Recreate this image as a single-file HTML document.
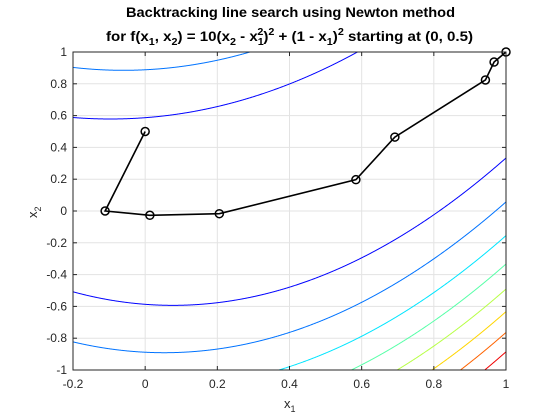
<!DOCTYPE html>
<html><head><meta charset="utf-8"><style>
html,body{margin:0;padding:0;background:#fff;overflow:hidden;width:560px;height:420px}
svg{display:block;overflow:hidden;position:absolute;left:0;top:0}
svg text{font-family:"Liberation Sans",Arial,sans-serif}
</style></head><body>
<svg id="chart" width="560" height="420" viewBox="0 0 560 420" xmlns="http://www.w3.org/2000/svg">
<rect width="560" height="420" fill="#fff"/>
<defs><clipPath id="clip"><rect x="73" y="52" width="433" height="318"/></clipPath></defs>
<g id="grid"></g>
<g id="contours" clip-path="url(#clip)"></g>
<g id="path"></g>
<rect x="73" y="52" width="433" height="318" fill="none" stroke="#262626" stroke-width="1"/>
<g id="ticks"></g>
<text x="126" y="17" textLength="329" lengthAdjust="spacingAndGlyphs" font-size="14" font-weight="bold" fill="#000">Backtracking line search using Newton method</text>
<text x="106" y="41" textLength="367" lengthAdjust="spacingAndGlyphs" font-size="14" font-weight="bold" fill="#000">for f(x<tspan font-size="10" dy="4">1</tspan><tspan dy="-4">, x</tspan><tspan font-size="10" dy="4">2</tspan><tspan dy="-4">) = 10(x</tspan><tspan font-size="10" dy="4">2</tspan><tspan dy="-4"> - x</tspan><tspan font-size="10" dy="4">1</tspan><tspan font-size="10" dx="-6" dy="-10">2</tspan><tspan dy="6">)</tspan><tspan font-size="10" dy="-6">2</tspan><tspan dy="6"> + (1 - x</tspan><tspan font-size="10" dy="4">1</tspan><tspan dy="-4">)</tspan><tspan font-size="10" dy="-6">2</tspan><tspan dy="6"> starting at (0, 0.5)</tspan></text>
<text x="284" y="408" font-size="13" fill="#262626">x<tspan font-size="9" dy="4">1</tspan></text>
<text transform="translate(37,218) rotate(-90)" font-size="13" fill="#262626">x<tspan font-size="9" dy="4">2</tspan></text>
</svg>
<script>
const xTicks=[-0.2,0,0.2,0.4,0.6,0.8,1];
const xTickLabels=["-0.2","0","0.2","0.4","0.6","0.8","1"];
const yTicks=[-1,-0.8,-0.6,-0.4,-0.2,0,0.2,0.4,0.6,0.8,1];
const yTickLabels=["-1","-0.8","-0.6","-0.4","-0.2","0","0.2","0.4","0.6","0.8","1"];
const levels=[4.444,8.889,13.333,17.778,22.222,26.667,31.111,35.556,40];
const pathX1=[0,-0.111,0.013,0.2055,0.584,0.692,0.943,0.967,1];
const pathX2=[0.5,0,-0.027,-0.017,0.197,0.465,0.824,0.937,1];
const L=73,T=52,W=433,H=318,NS="http://www.w3.org/2000/svg";
const sx=v=>L+(v+0.2)/1.2*W, sy=v=>T+(1-v)/2*H;
function mk(tag,attrs,parent){const e=document.createElementNS(NS,tag);for(const k in attrs)e.setAttribute(k,attrs[k]);parent.appendChild(e);return e;}
const grid=document.getElementById('grid'),ticks=document.getElementById('ticks');
xTicks.forEach((v,i)=>{const x=sx(v);
 const g=mk('line',{x1:x,x2:x,y1:T,y2:T+H,stroke:'#e3e3e3','stroke-width':1},grid);
 
 
 mk('line',{x1:x,x2:x,y1:T+H,y2:T+H-4,stroke:'#262626'},ticks);mk('line',{x1:x,x2:x,y1:T,y2:T+4,stroke:'#262626'},ticks);
 const t=mk('text',{x:x,y:T+H+18,'text-anchor':'middle','font-size':12,fill:'#262626'},ticks);t.textContent=xTickLabels[i];
 
 });
yTicks.forEach((v,i)=>{const y=sy(v);
 const g=mk('line',{x1:L,x2:L+W,y1:y,y2:y,stroke:'#e3e3e3','stroke-width':1},grid);
 
 
 mk('line',{x1:L,x2:L+4,y1:y,y2:y,stroke:'#262626'},ticks);mk('line',{x1:L+W,x2:L+W-4,y1:y,y2:y,stroke:'#262626'},ticks);
 const t=mk('text',{x:L-6,y:y+4,'text-anchor':'end','font-size':12,fill:'#262626'},ticks);t.textContent=yTickLabels[i];
 
 });
function jet(c){c=Math.round(c*63)/63;const r=Math.min(Math.max(Math.min(4*c-1.5,-4*c+4.5),0),1),g=Math.min(Math.max(Math.min(4*c-0.5,-4*c+3.5),0),1),b=Math.min(Math.max(Math.min(4*c+0.5,-4*c+2.5),0),1);return `rgb(${Math.round(r*255)},${Math.round(g*255)},${Math.round(b*255)})`;}
const cg=document.getElementById('contours');const maxL=Math.max(...levels),minL=Math.min(...levels);
const inR=y=>y!==null&&y>=-1&&y<=1;
const clampY=y=>Math.max(-1,Math.min(1,y));
levels.forEach(lv=>{const col=jet(0.125+0.875*(lv-minL)/(maxL-minL));
 [1,-1].forEach(sg=>{
  const xs=[],ys=[];
  for(let i=0;i<=1200;i++){const x=-0.2+1.2*i/1200;const r=lv-(1-x)*(1-x);
   xs.push(x);ys.push(r<0?null:x*x+sg*Math.sqrt(r/10));}
  let d='';
  for(let i=0;i<xs.length-1;i++){
   const a=ys[i],b=ys[i+1];
   if(a===null||b===null)continue;
   if(!inR(a)&&!inR(b))continue;
   d+='M'+sx(xs[i]).toFixed(2)+','+sy(clampY(a)).toFixed(2)+'L'+sx(xs[i+1]).toFixed(2)+','+sy(clampY(b)).toFixed(2);
  }
  d=d.replace(/L([\d.]+,[\d.]+)M\1/g,'L$1');
  if(!d)return;
  const p=mk('path',{d:d,fill:'none',stroke:col,'stroke-width':1},cg);
  
  });});
const pg=document.getElementById('path');
const pl=mk('polyline',{points:pathX1.map((x,i)=>sx(x)+','+sy(pathX2[i])).join(' '),fill:'none',stroke:'#000','stroke-width':1.6},pg);


pathX1.forEach((x,i)=>{const c=mk('circle',{cx:sx(x),cy:sy(pathX2[i]),r:4,fill:'none',stroke:'#000','stroke-width':1.5},pg);
 
 });
</script>
</body></html>
